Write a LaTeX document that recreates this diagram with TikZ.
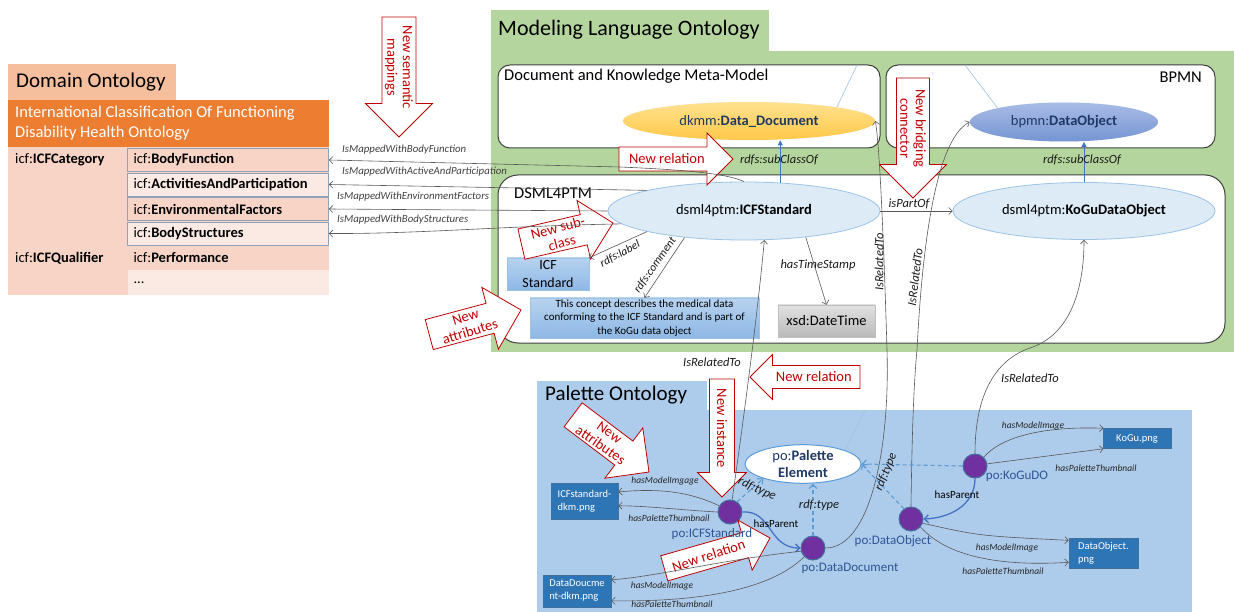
\documentclass[tikz,border=0pt]{standalone}
\usepackage{fontspec}
\setmainfont{Carlito}
\usetikzlibrary{arrows.meta, shapes.geometric}

\definecolor{newred}{HTML}{C00000}
\definecolor{domtab}{HTML}{F5BF9D}
\definecolor{icforange}{HTML}{ED7D31}
\definecolor{icfpale}{HTML}{F7D4C5}
\definecolor{rowdark}{HTML}{F8D4C6}
\definecolor{rowlight}{HTML}{FBEAE4}
\definecolor{rowframe}{HTML}{8FA2BC}
\definecolor{mlgreen}{HTML}{B4D59D}
\definecolor{palblue}{HTML}{ADCBEA}
\definecolor{navy}{HTML}{1F3864}
\definecolor{pofont}{HTML}{2F5597}
\definecolor{ellfill}{HTML}{DDEBF7}
\definecolor{ellline}{HTML}{9DC3E6}
\definecolor{linkgray}{HTML}{595959}
\definecolor{subblue}{HTML}{4472C4}
\definecolor{typeblue}{HTML}{5B9BD5}
\definecolor{imgblue}{HTML}{2E75B6}
\definecolor{instpurple}{HTML}{7030A0}
\definecolor{instframe}{HTML}{41719C}
\definecolor{littop}{HTML}{B7D3EF}
\definecolor{litbot}{HTML}{8EB7E5}
\definecolor{dkmmtop}{HTML}{FFE18F}
\definecolor{dkmmbot}{HTML}{FFC94A}
\definecolor{bpmntop}{HTML}{A9BCE6}
\definecolor{bpmnbot}{HTML}{7594D2}

\tikzset{
  ontitle/.style={anchor=west, inner sep=0pt},
  panel/.style={draw=black!75, line width=1pt, fill=white, rounded corners=12pt},
  rowbox/.style={minimum height=23pt, inner xsep=6pt, inner ysep=0pt, text width=189pt,
    align=left, line width=0.8pt, font=\fontsize{14.5}{17}\selectfont},
  concept/.style={ellipse, draw=ellline, fill=ellfill, inner sep=0pt, line width=0.8pt,
    font=\fontsize{14.5}{17}\selectfont},
  litbox/.style={draw=ellline, top color=littop, bottom color=litbot, align=center, inner sep=0pt},
  inst/.style={circle, fill=instpurple, draw=instframe, line width=1pt, minimum size=24pt, inner sep=0pt},
  imgbox/.style={fill=imgblue, draw=instframe, line width=0.5pt, text=white, align=left,
    inner sep=0pt, font=\fontsize{10.5}{13}\selectfont},
  link/.style={draw=linkgray, line width=0.6pt, -{Straight Barb[length=3.5pt,width=7pt]}},
  subclasslink/.style={draw=subblue, line width=0.9pt, -{Triangle[length=5pt,width=5pt]}},
  parentlink/.style={draw=subblue, line width=1.3pt, -{Straight Barb[length=4pt,width=8pt]}},
  typelink/.style={draw=typeblue, line width=1.1pt, dash pattern=on 4pt off 3pt,
    -{Straight Barb[length=4pt,width=8pt]}},
  lightline/.style={draw=ellline, line width=0.6pt},
  bigarrow/.style={draw=newred, fill=white, line width=0.8pt},
  arrowtext/.style={text=newred, align=center, inner sep=0pt, font=\fontsize{14.5}{15.5}\selectfont},
  maplabel/.style={anchor=west, inner sep=0pt, text=black!75, font=\itshape\fontsize{10.8}{13}\selectfont},
  edgelabel/.style={inner sep=0pt, text=black!90, font=\itshape\fontsize{12.5}{15}\selectfont},
  smalllabel/.style={inner sep=0pt, text=black!85, font=\itshape\fontsize{9.5}{11}\selectfont},
  plainlabel/.style={inner sep=0pt, font=\fontsize{11}{13}\selectfont},
  polabel/.style={inner sep=0pt, text=pofont, font=\fontsize{13}{15}\selectfont}
}

% red call-out arrow: name, tip, direction, length, shaft width, head width, text angle, text
\newcommand{\redarrow}[8]{%
  \begin{scope}[shift={#2}, rotate=#3]
    \draw[bigarrow] (0,0) -- (-#6/2,#6/2) -- (-#6/2,#5/2) -- (-#4,#5/2)
      -- (-#4,-#5/2) -- (-#6/2,-#5/2) -- (-#6/2,-#6/2) -- cycle;
    \node[arrowtext, rotate=#7] (#1) at ({-0.58*#4},0) {#8};
  \end{scope}}

\begin{document}
\begin{tikzpicture}[x=1pt, y=-1pt]
    \useasboundingbox (0,0) rectangle (1234,612);

    % domain ontology
    \fill[domtab] (8,64) rectangle (176,100);
    \node[ontitle, font=\fontsize{21}{25}\selectfont] (domtitle) at (16,82) {Domain Ontology};
    \fill[icforange] (8,100) rectangle (329,147);
    \node[ontitle, align=left, text=white, font=\fontsize{16.5}{20}\selectfont] (icfhead) at (15,123)
        {International Classification Of Functioning\\Disability Health Ontology};
    \fill[icfpale] (8,147) rectangle (329,295);
    \node[ontitle, font=\fontsize{14.5}{17}\selectfont] (category) at (15,160) {icf:\textbf{ICFCategory}};
    \node[ontitle, font=\fontsize{14.5}{17}\selectfont] (qualifier) at (15,258) {icf:\textbf{ICFQualifier}};
    \node[rowbox, fill=rowdark, draw=rowframe] (bodyfn) at (228,160) {icf:\textbf{BodyFunction}};
    \node[rowbox, fill=rowlight, draw=rowframe] (actpart) at (228,184.5) {icf:\textbf{ActivitiesAndParticipation}};
    \node[rowbox, fill=rowdark, draw=rowframe] (envfac) at (228,209) {icf:\textbf{EnvironmentalFactors}};
    \node[rowbox, fill=rowlight, draw=rowframe] (bodystr) at (228,233.5) {icf:\textbf{BodyStructures}};
    \node[rowbox, fill=rowdark, minimum height=24pt] (perf) at (228,258) {icf:\textbf{Performance}};
    \node[rowbox, fill=rowlight, minimum height=25pt] (dots) at (228,282.5) {...};

    % modeling language ontology
    \fill[mlgreen] (491,10) rectangle (769,51);
    \fill[mlgreen] (491,51) rectangle (1234,352);
    \node[ontitle, font=\fontsize{22}{26}\selectfont] (mltitle) at (498,30) {Modeling Language Ontology};
    \draw[panel] (498,65) rectangle (880,148);
    \draw[panel] (886,65) rectangle (1215,148);
    \draw[panel, rounded corners=20pt] (498,175) rectangle (1225,343);
    \node[ontitle, font=\fontsize{16.5}{20}\selectfont] (dkmmtitle) at (504,76) {Document and Knowledge Meta-Model};
    \node[ontitle, anchor=east, font=\fontsize{16.5}{20}\selectfont] (bpmntitle) at (1202,77) {BPMN};
    \node[ontitle, font=\fontsize{16.5}{20}\selectfont] (dsmltitle) at (514,193) {DSML4PTM};

    \node[concept, draw=none, top color=dkmmtop, bottom color=dkmmbot, text=navy,
        minimum width=252pt, minimum height=38pt] (dkmm) at (749,121) {dkmm:\textbf{Data\_Document}};
    \node[concept, draw=none, top color=bpmntop, bottom color=bpmnbot, text=navy,
        minimum width=188pt, minimum height=39pt] (bpmn) at (1064,122) {bpmn:\textbf{DataObject}};
    \node[concept, minimum width=272pt, minimum height=58pt] (icfstd) at (744,211) {dsml4ptm:\textbf{ICFStandard}};
    \node[concept, minimum width=262pt, minimum height=57pt] (kogu) at (1084,211) {dsml4ptm:\textbf{KoGuDataObject}};
    \node[litbox, minimum width=82pt, minimum height=32pt, font=\fontsize{14}{18}\selectfont] (icflabel) at (548,274) {ICF\\Standard};
    \node[litbox, minimum width=229pt, minimum height=40pt, font=\fontsize{11}{13.5}\selectfont] (comment) at (644.5,318)
        {This concept describes the medical data\\conforming to the ICF Standard and is part of\\the KoGu data object};
    \node[litbox, draw=black!25, top color=black!12, bottom color=black!27, minimum width=97pt, minimum height=32pt,
        font=\fontsize{14.5}{17}\selectfont] (xsd) at (826.5,321) {xsd:DateTime};

    % palette ontology
    \fill[palblue] (537,381) rectangle (707,410);
    \fill[palblue] (537,410) rectangle (1192,612);
    \node[ontitle, font=\fontsize{21}{25}\selectfont] (paltitle) at (545,395) {Palette Ontology};
    \node[ellipse, draw=typeblue, fill=white, line width=1pt, minimum width=116pt, minimum height=38pt,
        inner sep=0pt, align=center, text=navy, font=\fontsize{14.5}{17}\selectfont] (pal) at (803,464)
        {po:\textbf{Palette}\\\textbf{Element}};
    \node[inst] (poicf) at (730,512) {};
    \node[inst] (podd) at (813,548) {};
    \node[inst] (podo) at (911,519) {};
    \node[inst] (pokogu) at (975,466) {};
    \node[imgbox, minimum width=67pt, minimum height=36pt] (icfpng) at (584.5,501) {ICFstandard-\\dkm.png};
    \node[imgbox, minimum width=68pt, minimum height=32pt] (ddpng) at (577,591) {DataDoucme\\nt-dkm.png};
    \node[imgbox, minimum width=68pt, minimum height=20pt] (kogupng) at (1137,438.5) {KoGu.png};
    \node[imgbox, minimum width=69pt, minimum height=30pt] (dopng) at (1103.5,553) {DataObject.\\png};

    % stray light lines
    \draw[lightline] (dkmm.9) -- (857,65);
    \draw[lightline] (bpmn.168) -- (965,65);
    \draw[lightline] (pal.18) -- (865,410);

    % call-outs
    \redarrow{semmap}{(399,137)}{-90}{120}{34}{67}{-90}{New semantic\\mappings}
    \redarrow{newrel}{(733,159)}{0}{114}{24}{52}{0}{New relation}
    \redarrow{bridge}{(913,198)}{-90}{120}{33}{67}{-90}{New bridging\\connector}
    \redarrow{subcls}{(613,223)}{13}{94}{31}{60}{15}{New sub-\\class}
    \redarrow{attrup}{(521,310)}{15}{95}{31}{64}{17}{New\\attributes}
    \redarrow{relleft}{(750,377)}{180}{110}{23}{45}{0}{New relation}
    \redarrow{instance}{(722,497)}{-90}{118}{25}{49}{-90}{New instance}
    \redarrow{attrlow}{(649,472)}{-37}{95}{30}{63}{-35}{New\\attributes}
    \redarrow{rellow}{(770,538)}{16}{110}{26}{52}{18}{New relation}

    % mappings to the domain ontology
    \draw[link] (icfstd.north) .. controls (728,174) and (690,170) .. (620,167) -- (bodyfn.east);
    \draw[link] (icfstd.168) -- (actpart.east);
    \draw[link] (icfstd.west) -- (envfac.east);
    \draw[link] (icfstd.186) .. controls (500,226) and (420,234) .. (bodystr.east);
    \node[maplabel] (mapbf) at (342,150) {IsMappedWithBodyFunction};
    \node[maplabel] (mapap) at (342,172) {IsMappedWithActiveAndParticipation};
    \node[maplabel] (mapef) at (337,197) {IsMappedWithEnvironmentFactors};
    \node[maplabel] (mapbs) at (337,220) {IsMappedWithBodyStructures};

    % modeling language relations
    \draw[subclasslink] (icfstd.38) -- (icfstd.38 |- dkmm.south);
    \draw[subclasslink] (kogu.north) -- (kogu.north |- bpmn.south);
    \node[edgelabel] (subdkmm) at (779,160) {rdfs:subClassOf};
    \node[edgelabel] (subbpmn) at (1082,160) {rdfs:subClassOf};
    \draw[link] (icfstd.east) -- (kogu.west);
    \node[edgelabel] (partof) at (909,204) {isPartOf};
    \draw[link] (icfstd.192) -- (icflabel.north east);
    \node[edgelabel, rotate=28, font=\itshape\fontsize{11.5}{14}\selectfont] (rdfslabel) at (620,254) {rdfs:label};
    \draw[link] (icfstd.204) -- (comment.north);
    \node[edgelabel, rotate=55, font=\itshape\fontsize{11.5}{14}\selectfont] (rdfscomment) at (655,265) {rdfs:comment};
    \draw[link] (icfstd.-23) -- (xsd.north);
    \node[edgelabel] (timestamp) at (818,265) {hasTimeStamp};

    % palette to modeling language
    \draw[link] (poicf.80) .. controls (742,430) and (757,320) .. (icfstd.-55);
    \node[edgelabel] (relicf) at (712,362) {IsRelatedTo};
    \draw[link] (podd.east) .. controls (870,548) and (890,450) .. (887,350)
        .. controls (884,250) and (880,150) .. (dkmm.east);
    \node[edgelabel, rotate=90] (reldd) at (879,262) {IsRelatedTo};
    \draw[link] (podo.north) .. controls (912,430) and (914,380) .. (917,350)
        .. controls (922,250) and (935,140) .. (bpmn.west);
    \node[edgelabel, rotate=83] (reldo) at (915,277) {IsRelatedTo};
    \draw[link] (pokogu.north) .. controls (975,395) and (995,360) .. (1030,348)
        .. controls (1070,335) and (1084,290) .. (kogu.south);
    \node[edgelabel] (relkogu) at (1030,378) {IsRelatedTo};

    % palette relations
    \draw[parentlink] (poicf.east) .. controls (772,510) and (768,548) .. (podd.west);
    \node[plainlabel] (parentdd) at (776,524) {hasParent};
    \draw[parentlink] (pokogu.south) .. controls (975,505) and (950,518) .. (podo.east);
    \node[plainlabel] (parentdo) at (957,495) {hasParent};
    \draw[typelink] (poicf.55) -- (pal.200);
    \draw[typelink] (podd.north) -- (podd.north |- pal.south);
    \draw[typelink] (podo.125) -- (pal.east);
    \draw[typelink] (pokogu.west) -- (pal.east);
    \node[edgelabel, rotate=-25] (typeicf) at (757,489) {rdf:type};
    \node[edgelabel, fill=palblue, inner sep=1pt] (typedd) at (819,505) {rdf:type};
    \node[edgelabel, rotate=68] (typedo) at (886,472) {rdf:type};

    % images
    \draw[link] (poicf.150) .. controls (690,492) and (660,488) .. (icfpng.15);
    \draw[link] (poicf.180) .. controls (680,510) and (650,506) .. (icfpng.-8);
    \node[smalllabel] (imgicf) at (665,481) {hasModelImgage};
    \node[smalllabel] (thumbicf) at (669,518) {hasPaletteThumbnail};
    \draw[link] (podd.195) .. controls (720,560) and (660,576) .. (ddpng.18);
    \draw[link] (podd.225) .. controls (770,590) and (700,602) .. (ddpng.-16);
    \node[smalllabel] (imgdd) at (662,586) {hasModelImage};
    \node[smalllabel] (thumbdd) at (672,604) {hasPaletteThumbnail};
    \draw[link] (pokogu.45) .. controls (1000,438) and (1040,426) .. (kogupng.163);
    \draw[link] (pokogu.10) -- (kogupng.197);
    \node[smalllabel] (imgkogu) at (1033,426) {hasModelImage};
    \node[smalllabel] (thumbkogu) at (1096,468) {hasPaletteThumbnail};
    \draw[link] (podo.-20) .. controls (980,536) .. (dopng.160);
    \draw[link] (podo.-40) .. controls (950,560) and (1010,566) .. (dopng.195);
    \node[smalllabel] (imgdo) at (1007,548) {hasModelImage};
    \node[smalllabel] (thumbdo) at (1003,571) {hasPaletteThumbnail};

    % instance names
    \node[polabel] (poicflbl) at (712,534) {po:ICFStandard};
    \node[polabel] (poddlbl) at (850,568) {po:DataDocument};
    \node[polabel] (podolbl) at (893,541) {po:DataObject};
    \node[polabel] (pokogulbl) at (1017,476) {po:KoGuDO};
\end{tikzpicture}
\end{document}
